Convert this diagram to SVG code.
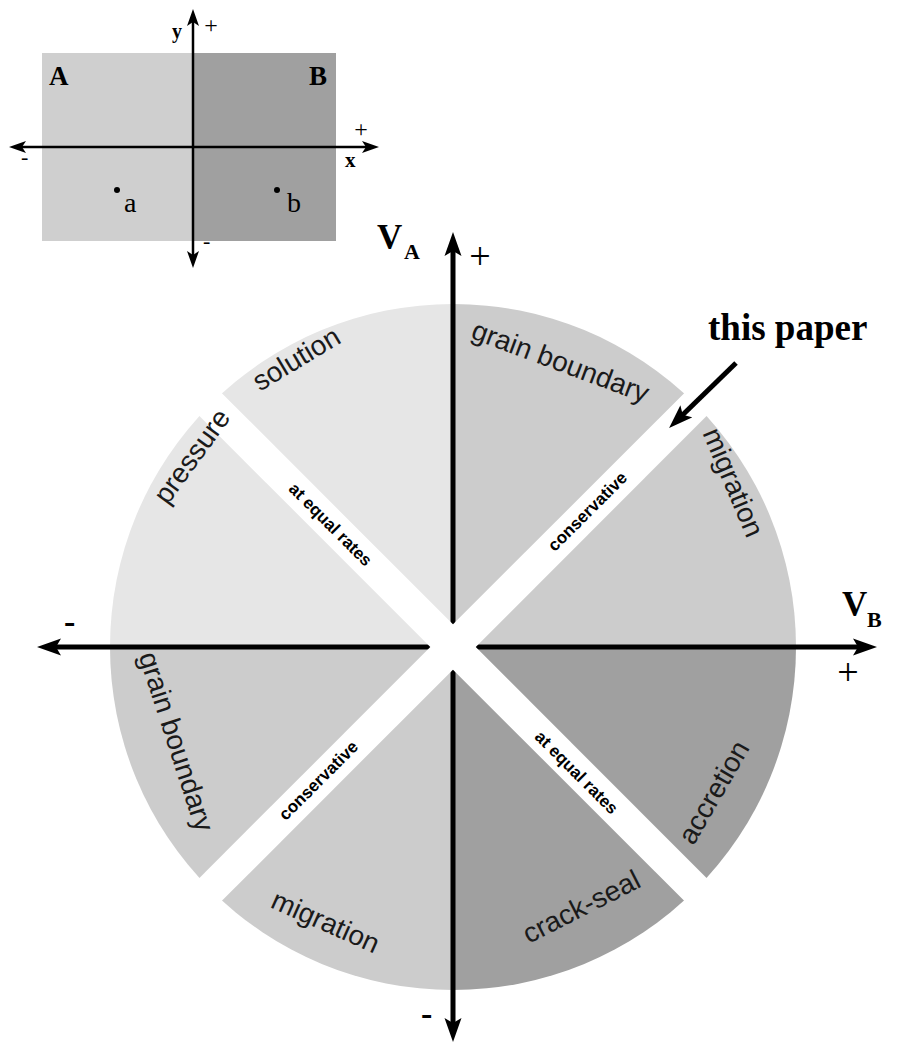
<svg xmlns="http://www.w3.org/2000/svg" width="899" height="1046" viewBox="0 0 899 1046">
<defs>
<style>
.serif{font-family:"Liberation Serif","Times New Roman",serif;fill:#000}
.b{font-weight:bold}
.lab{font-family:"Liberation Sans",Arial,sans-serif;font-size:28px;fill:#1a1a1a;text-anchor:middle}
.band{font-family:"Liberation Sans",Arial,sans-serif;font-size:17px;font-weight:bold;fill:#000;text-anchor:middle}
.ax{stroke:#000;stroke-width:5;fill:none}
.axs{stroke:#000;stroke-width:2.5;fill:none}
.hd{fill:#000;stroke:none}
</style>
<marker id="big" viewBox="0 -9 25 18" markerWidth="25" markerHeight="18" refX="6" refY="0" orient="auto" markerUnits="userSpaceOnUse">
<path d="M0,-8.5 L24,0 L0,8.5 L5,0 Z" fill="#000"/>
</marker>
</defs>
<rect width="899" height="1046" fill="#fff"/>

<g id="inset">
<rect x="42" y="53" width="151" height="188" fill="#cfcfcf"/>
<rect x="193" y="53" width="143" height="188" fill="#a0a0a0"/>
<g id="inset-axes">
<line class="axs" x1="193" y1="147" x2="193" y2="22"/>
<line class="axs" x1="193" y1="147" x2="193" y2="255"/>
<line class="axs" x1="193" y1="147" x2="22" y2="147"/>
<line class="axs" x1="193" y1="147" x2="366" y2="147"/>
<path class="hd" d="M193,9 L199,26 L193,22 L187,26 Z"/>
<path class="hd" d="M193,268 L199,251 L193,255 L187,251 Z"/>
<path class="hd" d="M9,147 L26,141 L22,147 L26,153 Z"/>
<path class="hd" d="M379,147 L362,141 L366,147 L362,153 Z"/>
</g>
<text class="serif b" x="172" y="38" font-size="20">y</text>
<text class="serif" x="211" y="33" font-size="24" text-anchor="middle">+</text>
<text class="serif b" x="49" y="85" font-size="27">A</text>
<text class="serif b" x="309" y="85" font-size="27">B</text>
<text class="serif" x="361" y="137" font-size="24" text-anchor="middle">+</text>
<text class="serif b" x="345" y="167" font-size="21">x</text>
<text class="serif" x="21" y="164" font-size="22">-</text>
<text class="serif" x="203" y="248" font-size="22">-</text>
<circle cx="117" cy="190" r="3" fill="#000"/>
<text class="serif" x="124" y="212" font-size="28">a</text>
<circle cx="277" cy="190" r="3" fill="#000"/>
<text class="serif" x="287" y="212" font-size="28">b</text>
</g>

<g id="sectors">
<path id="q-nw" d="M453,647 L110,647 A343,343 0 0 1 453,304 Z" fill="#e6e6e6"/>
<path id="q-ne" d="M453,647 L453,304 A343,343 0 0 1 796,647 Z" fill="#cccccc"/>
<path id="q-se" d="M453,647 L796,647 A343,343 0 0 1 453,990 Z" fill="#a0a0a0"/>
<path id="q-sw" d="M453,647 L453,990 A343,343 0 0 1 110,647 Z" fill="#cccccc"/>
</g>

<g id="axes">
<line class="ax" x1="453" y1="647" x2="453" y2="250" marker-end="url(#big)"/>
<line class="ax" x1="453" y1="647" x2="453" y2="1024" marker-end="url(#big)"/>
<line class="ax" x1="453" y1="647" x2="55" y2="647" marker-end="url(#big)"/>
<line class="ax" x1="453" y1="647" x2="859" y2="647" marker-end="url(#big)"/>
</g>

<g id="bands" fill="#fff">
<rect x="-350" y="-16" width="700" height="32" transform="translate(453,647) rotate(45)"/>
<rect x="-350" y="-16" width="700" height="32" transform="translate(453,647) rotate(-45)"/>
</g>

<g id="sector-labels">
<text class="lab" transform="translate(297,360) rotate(-31)" y="8">solution</text>
<text class="lab" transform="translate(193,457) rotate(-54)" y="8">pressure</text>
<text class="lab" transform="translate(560,363) rotate(20.5)" y="8">grain boundary</text>
<text class="lab" transform="translate(732,483) rotate(67)" y="8">migration</text>
<text class="lab" transform="translate(175,742) rotate(72)" y="8">grain boundary</text>
<text class="lab" transform="translate(325,923) rotate(24)" y="8">migration</text>
<text class="lab" transform="translate(582,908) rotate(-27)" y="8">crack-seal</text>
<text class="lab" transform="translate(715,793) rotate(-60)" y="8">accretion</text>
</g>

<g id="band-labels">
<text class="band" transform="translate(330,525) rotate(45)" y="5">at equal rates</text>
<text class="band" transform="translate(588,512) rotate(-45)" y="5">conservative</text>
<text class="band" transform="translate(319,781) rotate(-45)" y="5">conservative</text>
<text class="band" transform="translate(576,773) rotate(45)" y="5">at equal rates</text>
</g>

<g id="axis-labels">
<text class="serif b" x="377" y="249" font-size="35">V</text>
<text class="serif b" x="404" y="259" font-size="22">A</text>
<text class="serif" x="480" y="269" font-size="38" text-anchor="middle">+</text>
<text class="serif b" x="842" y="616" font-size="35">V</text>
<text class="serif b" x="867" y="627" font-size="22">B</text>
<text class="serif" x="848" y="685" font-size="38" text-anchor="middle">+</text>
<text class="serif b" x="64" y="633" font-size="34">-</text>
<text class="serif b" x="421" y="1025" font-size="34">-</text>
</g>

<g id="this-paper">
<text class="serif b" x="708" y="340" font-size="37">this paper</text>
<line class="ax" x1="736" y1="363" x2="682" y2="415.5" marker-end="url(#big)"/>
</g>
</svg>
